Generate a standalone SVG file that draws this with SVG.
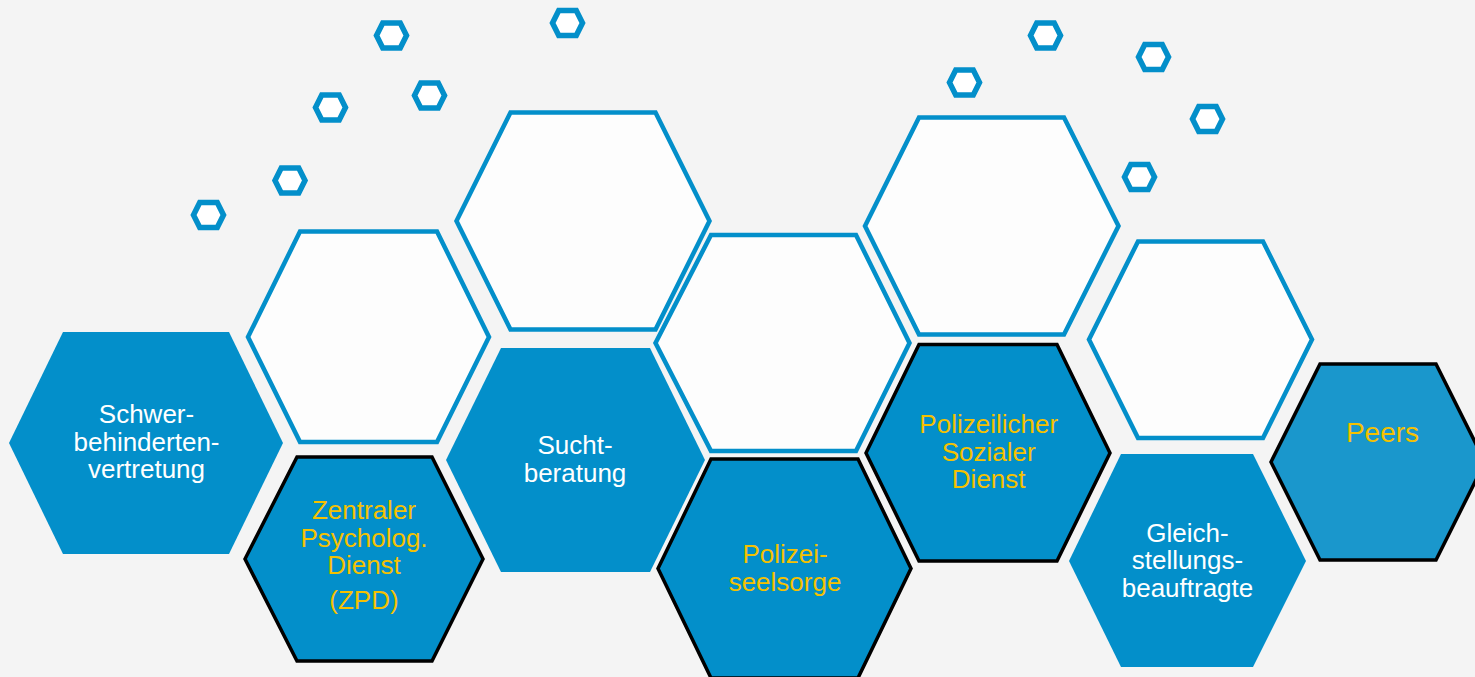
<svg xmlns="http://www.w3.org/2000/svg" width="1475" height="677" viewBox="0 0 1475 677">
<style>
.bg{fill:#f4f4f4}
.blue{fill:#038fca;stroke:none}
.blueb{fill:#038fca;stroke:#000;stroke-width:3.5;stroke-linejoin:miter}
.peers{fill:#1a97cc;stroke:#000;stroke-width:3.5}
.empty{fill:#fdfdfd;stroke:#038fca;stroke-width:4.5}
.small{fill:#ffffff;stroke:#038fca;stroke-width:5.5}
text{font-family:"Liberation Sans",Arial,sans-serif;font-size:26px;text-anchor:middle}
.w{fill:#ffffff}
.g{fill:#f5c100}
</style>
<defs>
<polygon id="sh" points="-15,0 -8.75,-12.5 8.75,-12.5 15,0 8.75,12.5 -8.75,12.5"/>
</defs>
<rect class="bg" x="0" y="0" width="1475" height="677"/>
<g id="decor">
<use href="#sh" class="small" x="208.5" y="215"/>
<use href="#sh" class="small" x="290" y="180.5"/>
<use href="#sh" class="small" x="330.5" y="107.5"/>
<use href="#sh" class="small" x="391.5" y="35.5"/>
<use href="#sh" class="small" x="429.5" y="95.5"/>
<use href="#sh" class="small" x="567.5" y="23"/>
<use href="#sh" class="small" x="964.5" y="82.5"/>
<use href="#sh" class="small" x="1045.5" y="35.5"/>
<use href="#sh" class="small" x="1153.5" y="57"/>
<use href="#sh" class="small" x="1207.5" y="119"/>
<use href="#sh" class="small" x="1139.5" y="177"/>
</g>
<g id="hex-empty-1"><polygon class="empty" points="248,337 300,231.5 437,231.5 489,337 437,442 300,442"/></g>
<g id="hex-empty-2"><polygon class="empty" points="456.5,221 510.5,112.5 655.5,112.5 709.5,221 655.5,329.5 510.5,329.5"/></g>
<g id="hex-empty-3"><polygon class="empty" points="655.5,343 711,235 856,235 909.5,343 856,451 711,451"/></g>
<g id="hex-empty-4"><polygon class="empty" points="865,226 919,117.5 1064,117.5 1118.5,226 1064,334.5 919,334.5"/></g>
<g id="hex-empty-5"><polygon class="empty" points="1089,339.5 1138,241.5 1263,241.5 1312,339.5 1263,438 1138,438"/></g>
<g id="node-schwerbehinderten">
<polygon class="blue" points="9,443 63,332 229,332 283,443 229,554 63,554"/>
<text class="w" x="146.5" y="423">Schwer-</text>
<text class="w" x="146.5" y="450.5">behinderten-</text>
<text class="w" x="146.5" y="478">vertretung</text>
</g>
<g id="node-zpd">
<polygon class="blueb" points="245,559 297,457 432,457 483,559 432,661 297,661"/>
<text class="g" x="364" y="519">Zentraler</text>
<text class="g" x="364" y="546.5">Psycholog.</text>
<text class="g" x="364" y="574">Dienst</text>
<text class="g" x="364" y="608.5">(ZPD)</text>
</g>
<g id="node-sucht">
<polygon class="blue" points="446,460 501,348 650,348 705,460 650,572 501,572"/>
<text class="w" x="575" y="454">Sucht-</text>
<text class="w" x="575" y="481.5">beratung</text>
</g>
<g id="node-seelsorge">
<polygon class="blueb" points="658,568.5 711,459 858,459 911,568.5 858,678 711,678"/>
<text class="g" x="785" y="562.5">Polizei-</text>
<text class="g" x="785" y="590.5">seelsorge</text>
</g>
<g id="node-psd">
<polygon class="blueb" points="866,453 919,344.5 1057,344.5 1110,453 1057,561 919,561"/>
<text class="g" x="988.7" y="433">Polizeilicher</text>
<text class="g" x="988.7" y="460.5">Sozialer</text>
<text class="g" x="988.7" y="488">Dienst</text>
</g>
<g id="node-gleich">
<polygon class="blue" points="1069,561 1121,454 1253,454 1306,561 1253,667 1121,667"/>
<text class="w" x="1187.5" y="541.5">Gleich-</text>
<text class="w" x="1187.5" y="569">stellungs-</text>
<text class="w" x="1187.5" y="596.5">beauftragte</text>
</g>
<g id="node-peers">
<polygon class="peers" points="1271,462 1320,364 1436,364 1485,462 1436,560 1320,560"/>
<text class="g" x="1382.5" y="442" style="font-size:28px">Peers</text>
</g>
<g id="connectors"/>
</svg>
